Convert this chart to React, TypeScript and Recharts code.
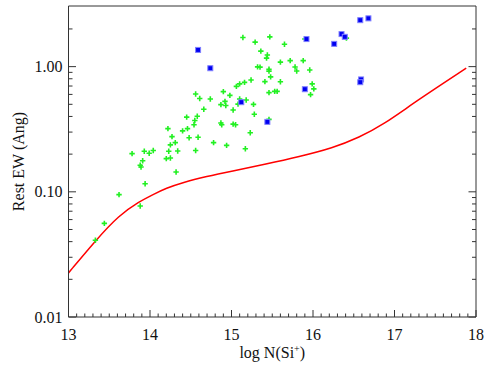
import React from 'react';
import { ComposedChart, XAxis, YAxis, Scatter, Line } from 'recharts';

const curveLogN = [13.0, 13.34, 13.62, 13.87, 14.03, 14.2, 14.4, 14.69, 15.02, 15.42, 15.83, 16.24, 16.57, 16.86, 17.27, 17.88];
const curveEW = [0.0225, 0.0414, 0.065, 0.0837, 0.0946, 0.107, 0.1187, 0.1324, 0.147, 0.1665, 0.191, 0.2234, 0.273, 0.343, 0.532, 0.971];

const greenLogN = [
  13.33, 13.44, 13.62, 13.78, 13.88, 13.89, 13.91, 13.93, 13.94, 13.99,
  14.04, 13.88, 14.2, 14.25, 14.23, 14.34, 14.32, 14.56, 14.22, 14.27,
  14.25, 14.31, 14.4, 14.46, 14.45, 14.48, 14.54, 14.55, 14.58, 14.59,
  14.56, 14.61, 14.66, 14.74, 14.78, 14.9, 14.98, 14.87, 14.92, 14.93,
  15.02, 14.87, 14.88, 15.02, 15.05, 14.94, 15.1, 15.08, 15.18, 15.27,
  15.28, 15.23, 15.17, 15.06, 15.1, 15.16, 15.24, 15.14, 15.29, 15.36,
  15.44, 15.43, 15.32, 15.35, 15.46, 15.46, 15.48, 15.41, 15.6, 15.47,
  15.65, 15.72, 15.88, 15.78, 15.8, 15.96, 15.6, 15.99, 16.01, 15.97,
  15.46, 15.53, 15.56, 15.46, 15.9, 16.41,
];
const greenEW = [
  0.041, 0.056, 0.095, 0.202, 0.163, 0.158, 0.177, 0.211, 0.116, 0.203,
  0.214, 0.077, 0.184, 0.186, 0.211, 0.212, 0.144, 0.214, 0.32, 0.276,
  0.237, 0.247, 0.307, 0.32, 0.395, 0.27, 0.343, 0.371, 0.401, 0.273,
  0.605, 0.556, 0.457, 0.551, 0.247, 0.632, 0.589, 0.497, 0.528, 0.489,
  0.45, 0.355, 0.343, 0.347, 0.343, 0.235, 0.552, 0.502, 0.542, 0.499,
  0.417, 0.296, 0.221, 0.695, 0.728, 0.748, 0.783, 1.71, 1.57, 1.33,
  1.24, 1.17, 0.995, 0.99, 0.953, 0.921, 0.828, 0.759, 1.086, 1.73,
  1.51, 1.117, 1.117, 0.994, 0.924, 0.941, 0.758, 0.728, 0.664, 0.598,
  0.62, 0.634, 0.634, 0.379, 1.66, 1.69,
];

const blueLogN = [14.59, 14.74, 15.12, 15.44, 15.9, 15.92, 16.26, 16.35, 16.39, 16.58, 16.68, 16.59, 16.58];
const blueEW = [1.36, 0.971, 0.52, 0.362, 0.66, 1.66, 1.52, 1.82, 1.73, 2.35, 2.43, 0.79, 0.751];

const xMajorTicks = [13, 14, 15, 16, 17, 18];
const yMajorTicks = [0.01, 0.1, 1];
const yMajorLabels = ['0.01', '0.10', '1.00'];

const xTicks: number[] = [];
for (let i = 0; i <= 50; i++) xTicks.push(Math.round((13 + i * 0.1) * 10) / 10);
const yTicks: number[] = [];
[0.01, 0.1, 1].forEach((d) => {
  for (let m = 1; m <= 9; m++) {
    const v = Math.round(d * m * 1000) / 1000;
    if (v <= 2) yTicks.push(v);
  }
});

const curveData = curveLogN.map((x, i) => ({ x, y: curveEW[i] }));
const greenData = greenLogN.map((x, i) => ({ x, y: greenEW[i] }));
const blueData = blueLogN.map((x, i) => ({ x, y: blueEW[i] }));

const FONT = '"Liberation Serif", "Times New Roman", serif';
const AXIS = '#333';

const isXMajor = (v: number) => xMajorTicks.some((t) => Math.abs(t - v) < 1e-6);
const yMajorIndex = (v: number) => yMajorTicks.findIndex((t) => Math.abs(t - v) / t < 1e-6);

const XTickBottom = (props: any) => {
  const { x, y, payload } = props;
  const major = isXMajor(payload.value);
  return (
    <g>
      <line x1={x} y1={y} x2={x} y2={y - (major ? 7 : 3.5)} stroke={AXIS} strokeWidth={1} />
      {major && (
        <text x={x} y={y + 23} textAnchor="middle" fontFamily={FONT} fontSize={16} fill="#111">
          {String(payload.value)}
        </text>
      )}
    </g>
  );
};
const XTickTop = (props: any) => {
  const { x, y, payload } = props;
  const major = isXMajor(payload.value);
  return <line x1={x} y1={y} x2={x} y2={y + (major ? 7 : 3.5)} stroke={AXIS} strokeWidth={1} />;
};
const YTickLeft = (props: any) => {
  const { x, y, payload } = props;
  const idx = yMajorIndex(payload.value);
  const major = idx >= 0;
  return (
    <g>
      <line x1={x} y1={y} x2={x + (major ? 7.5 : 4)} y2={y} stroke={AXIS} strokeWidth={1} />
      {major && (
        <text x={x - 6} y={y + 5.5} textAnchor="end" fontFamily={FONT} fontSize={16} fill="#111">
          {yMajorLabels[idx]}
        </text>
      )}
    </g>
  );
};
const YTickRight = (props: any) => {
  const { x, y, payload } = props;
  const major = yMajorIndex(payload.value) >= 0;
  return <line x1={x} y1={y} x2={x - (major ? 7.5 : 4)} y2={y} stroke={AXIS} strokeWidth={1} />;
};

const GreenPlus = (props: any) => {
  const { cx, cy } = props;
  if (cx == null || cy == null) return null;
  return (
    <path
      d={`M${cx - 2.7},${cy}H${cx + 2.7}M${cx},${cy - 2.7}V${cy + 2.7}`}
      stroke="#22f022"
      strokeWidth={1.6}
      fill="none"
    />
  );
};
const BlueSquare = (props: any) => {
  const { cx, cy } = props;
  if (cx == null || cy == null) return null;
  return <rect x={cx - 2.5} y={cy - 2.5} width={5} height={5} fill="#0000f0" stroke="#8080ff" strokeWidth={1} />;
};

const XTitle = (props: any) => {
  const vb = props.viewBox || {};
  return (
    <text x={vb.x + vb.width / 2} y={vb.y + 41} textAnchor="middle" fontFamily={FONT} fontSize={16} fill="#111">
      log N(Si
      <tspan dy={-6} fontSize={10}>+</tspan>
      <tspan dy={6}>)</tspan>
    </text>
  );
};
const YTitle = (props: any) => {
  const vb = props.viewBox || {};
  const cx = vb.x + 23.5;
  const cy = vb.y + vb.height / 2;
  return (
    <text
      x={cx}
      y={cy}
      transform={`rotate(-90 ${cx} ${cy})`}
      textAnchor="middle"
      fontFamily={FONT}
      fontSize={16}
      fill="#111"
    >
      Rest EW (Ang)
    </text>
  );
};

export default function App() {
  return (
    <div style={{ position: 'absolute', left: 0, top: 0, background: '#fff' }}>
      <ComposedChart width={485} height={368} margin={{ top: 0, right: 0, bottom: 0, left: 0 }}>
        <XAxis
          xAxisId={0}
          dataKey="x"
          type="number"
          domain={[13, 18]}
          allowDataOverflow
          ticks={xTicks}
          interval={0}
          tickSize={0}
          tickMargin={0}
          tickLine={false}
          tick={<XTickBottom />}
          height={51}
          axisLine={{ stroke: AXIS, strokeWidth: 1 }}
          label={<XTitle />}
        />
        <XAxis
          xAxisId="top"
          orientation="top"
          type="number"
          domain={[13, 18]}
          allowDataOverflow
          ticks={xTicks}
          interval={0}
          tickSize={0}
          tickMargin={0}
          tickLine={false}
          tick={<XTickTop />}
          height={6}
          axisLine={{ stroke: AXIS, strokeWidth: 1 }}
        />
        <YAxis
          yAxisId={0}
          dataKey="y"
          type="number"
          scale="log"
          domain={[0.01, 3.05]}
          allowDataOverflow
          ticks={yTicks}
          interval={0}
          tickSize={0}
          tickMargin={0}
          tickLine={false}
          tick={<YTickLeft />}
          width={68.5}
          axisLine={{ stroke: AXIS, strokeWidth: 1 }}
          label={<YTitle />}
        />
        <YAxis
          yAxisId="right"
          orientation="right"
          type="number"
          scale="log"
          domain={[0.01, 3.05]}
          allowDataOverflow
          ticks={yTicks}
          interval={0}
          tickSize={0}
          tickMargin={0}
          tickLine={false}
          tick={<YTickRight />}
          width={9}
          axisLine={{ stroke: AXIS, strokeWidth: 1 }}
        />
        <Line
          data={curveData}
          dataKey="y"
          type="basis"
          stroke="#ff0000"
          strokeWidth={1.5}
          dot={false}
          activeDot={false}
          isAnimationActive={false}
        />
        <Scatter data={greenData} shape={<GreenPlus />} isAnimationActive={false} />
        <Scatter data={blueData} shape={<BlueSquare />} isAnimationActive={false} />
      </ComposedChart>
    </div>
  );
}
